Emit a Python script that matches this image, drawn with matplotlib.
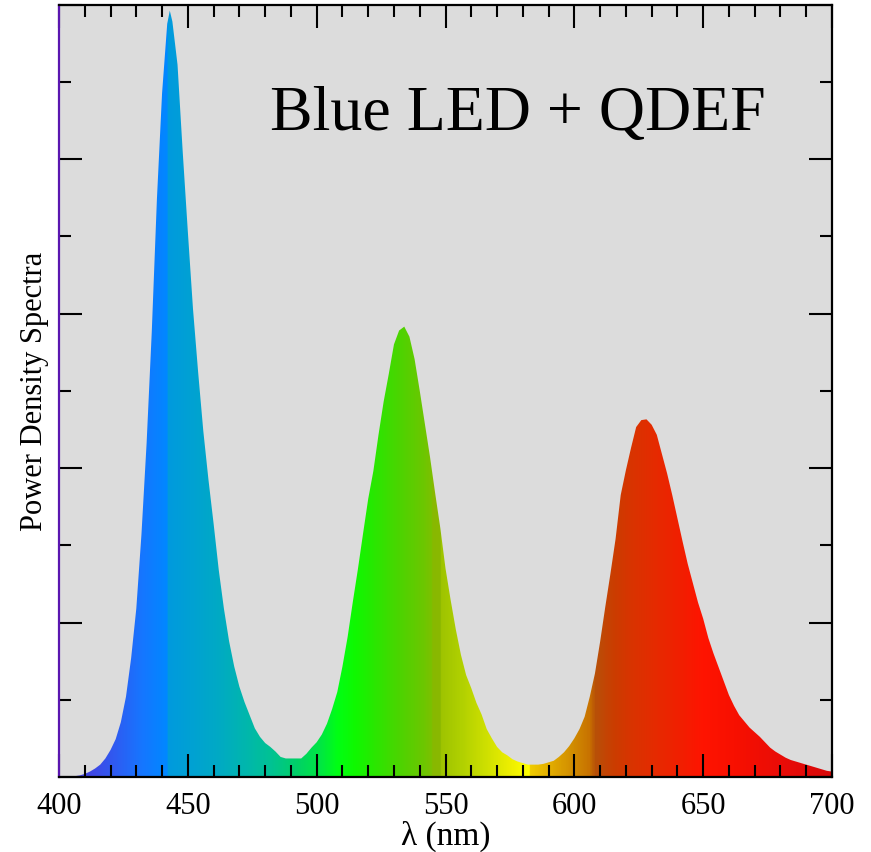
import matplotlib
matplotlib.use("Agg")
import matplotlib.pyplot as plt
import numpy as np
from matplotlib.colors import LinearSegmentedColormap
from matplotlib.ticker import MultipleLocator

# spectrum (nm, normalised power)
wavelength_nm = [
    400, 402, 404, 406, 408, 410, 412, 414, 416, 418, 420, 422, 424, 426, 428,
    430, 432, 434, 436, 438, 440, 442, 443, 444, 446, 448, 450, 452, 454, 456,
    458, 460, 462, 464, 466, 468, 470, 472, 474, 476, 478, 480, 482, 484, 486,
    488, 490, 492, 494, 496, 498, 500, 502, 504, 506, 508, 510, 512, 514, 516,
    518, 520, 522, 524, 526, 528, 530, 532, 534, 536, 538, 540, 542, 544, 546,
    548, 550, 552, 554, 556, 558, 560, 562, 564, 566, 568, 570, 572, 574, 576,
    578, 580, 582, 584, 586, 588, 590, 592, 594, 596, 598, 600, 602, 604, 606,
    608, 610, 612, 614, 616, 618, 620, 622, 624, 626, 628, 630, 632, 634, 636,
    638, 640, 642, 644, 646, 648, 650, 652, 654, 656, 658, 660, 662, 664, 666,
    668, 670, 672, 674, 676, 678, 680, 682, 684, 686, 688, 690, 692, 694, 696,
    698, 700,
]
power = [
    0.000, 0.000, 0.000, 0.001, 0.002, 0.004, 0.007, 0.011, 0.016, 0.024, 0.035,
    0.049, 0.071, 0.104, 0.154, 0.218, 0.314, 0.432, 0.576, 0.748, 0.885, 0.975,
    0.992, 0.978, 0.922, 0.810, 0.706, 0.606, 0.524, 0.448, 0.385, 0.328, 0.268,
    0.218, 0.176, 0.143, 0.117, 0.097, 0.080, 0.063, 0.052, 0.044, 0.039, 0.033,
    0.026, 0.024, 0.024, 0.024, 0.024, 0.030, 0.038, 0.045, 0.055, 0.069, 0.088,
    0.110, 0.143, 0.181, 0.226, 0.269, 0.315, 0.360, 0.396, 0.443, 0.486, 0.522,
    0.560, 0.578, 0.583, 0.570, 0.541, 0.500, 0.457, 0.414, 0.367, 0.322, 0.270,
    0.229, 0.191, 0.158, 0.132, 0.115, 0.096, 0.081, 0.062, 0.050, 0.039, 0.032,
    0.028, 0.023, 0.020, 0.018, 0.016, 0.016, 0.016, 0.017, 0.019, 0.021, 0.026,
    0.032, 0.040, 0.050, 0.062, 0.078, 0.104, 0.134, 0.175, 0.220, 0.263, 0.308,
    0.365, 0.397, 0.426, 0.453, 0.462, 0.463, 0.456, 0.443, 0.418, 0.393, 0.365,
    0.335, 0.305, 0.276, 0.251, 0.226, 0.205, 0.180, 0.160, 0.142, 0.124, 0.106,
    0.092, 0.080, 0.072, 0.064, 0.058, 0.052, 0.045, 0.038, 0.033, 0.029, 0.025,
    0.022, 0.020, 0.018, 0.016, 0.014, 0.012, 0.010, 0.008, 0.007,
]

# colour of the fill along the wavelength axis
color_stops_nm = [400, 412, 422, 432, 441.8, 442.2, 452, 462, 472, 482, 492,
                  502, 508, 515, 522, 532, 542, 544.6, 545, 548, 548.4, 556,
                  566, 576, 582.6, 583, 590, 600, 606, 608.5, 612.5, 616, 622,
                  632, 642, 650, 662, 682, 700]
color_stops = ["#4a3ee0", "#4046e4", "#2e5cf2", "#1676ff", "#0088ff", "#009ade",
               "#00a2d2", "#00aac4", "#00b6ae", "#00c294", "#00d068",
               "#00e840", "#00ff14", "#10f800", "#28e800", "#4cd400", "#6ec600",
               "#7cc000", "#88b800", "#8ab800", "#9ec400", "#b0d000",
               "#cfe000", "#f0f000", "#ffff00", "#f0cc00", "#e4b000", "#d08a00",
               "#c87200", "#b85008", "#c44404", "#cc3c00", "#d83400",
               "#e62a00", "#f21e00", "#ff1400", "#f81000", "#e80c08", "#d80808"]

fig = plt.figure(figsize=(8.71, 8.53), dpi=100)
ax = fig.add_axes([59 / 871, 75 / 853, 773 / 871, 772.5 / 853])
ax.set_facecolor("#dcdcdc")

area = ax.fill_between(wavelength_nm, power, 0, facecolor="none", linewidth=0)

pos = [(w - 400) / 300 for w in color_stops_nm]
cmap = LinearSegmentedColormap.from_list("spectrum", list(zip(pos, color_stops)), N=1024)
gradient = np.linspace(0, 1, 1500).reshape(1, -1)
img = ax.imshow(gradient, cmap=cmap, extent=[400, 700, 0, 1], aspect="auto",
                origin="lower", interpolation="nearest", zorder=1)
img.set_clip_path(area.get_paths()[0], transform=ax.transData)

ax.set_xlim(400, 700)
ax.set_ylim(0, 1)

serif = "Liberation Serif"
ax.xaxis.set_major_locator(MultipleLocator(50))
ax.xaxis.set_minor_locator(MultipleLocator(10))
ax.yaxis.set_major_locator(MultipleLocator(0.2))
ax.yaxis.set_minor_locator(MultipleLocator(0.1))
ax.tick_params(which="both", direction="in", top=True, right=True, color="black")
ax.tick_params(which="major", length=16.5, width=1.5, pad=10)
ax.tick_params(which="minor", length=8.6, width=1.5)
ax.tick_params(axis="y", labelleft=False)
for lab in ax.get_xticklabels():
    lab.set_fontfamily(serif)
    lab.set_fontsize(22)

for side in ["top", "right", "bottom"]:
    ax.spines[side].set_linewidth(1.6)
ax.spines["left"].set_linewidth(1.6)
ax.spines["left"].set_color("#5a16b0")

ax.set_xlabel("λ (nm)", fontfamily=serif, fontsize=24, labelpad=0)
ax.set_ylabel("Power Density Spectra", fontfamily=serif, fontsize=22, labelpad=4)

ax.text(0.273, 0.839, "Blue LED + QDEF", transform=ax.transAxes,
        fontfamily=serif, fontsize=46, ha="left", va="baseline")

fig.savefig("out.png", dpi=100)
